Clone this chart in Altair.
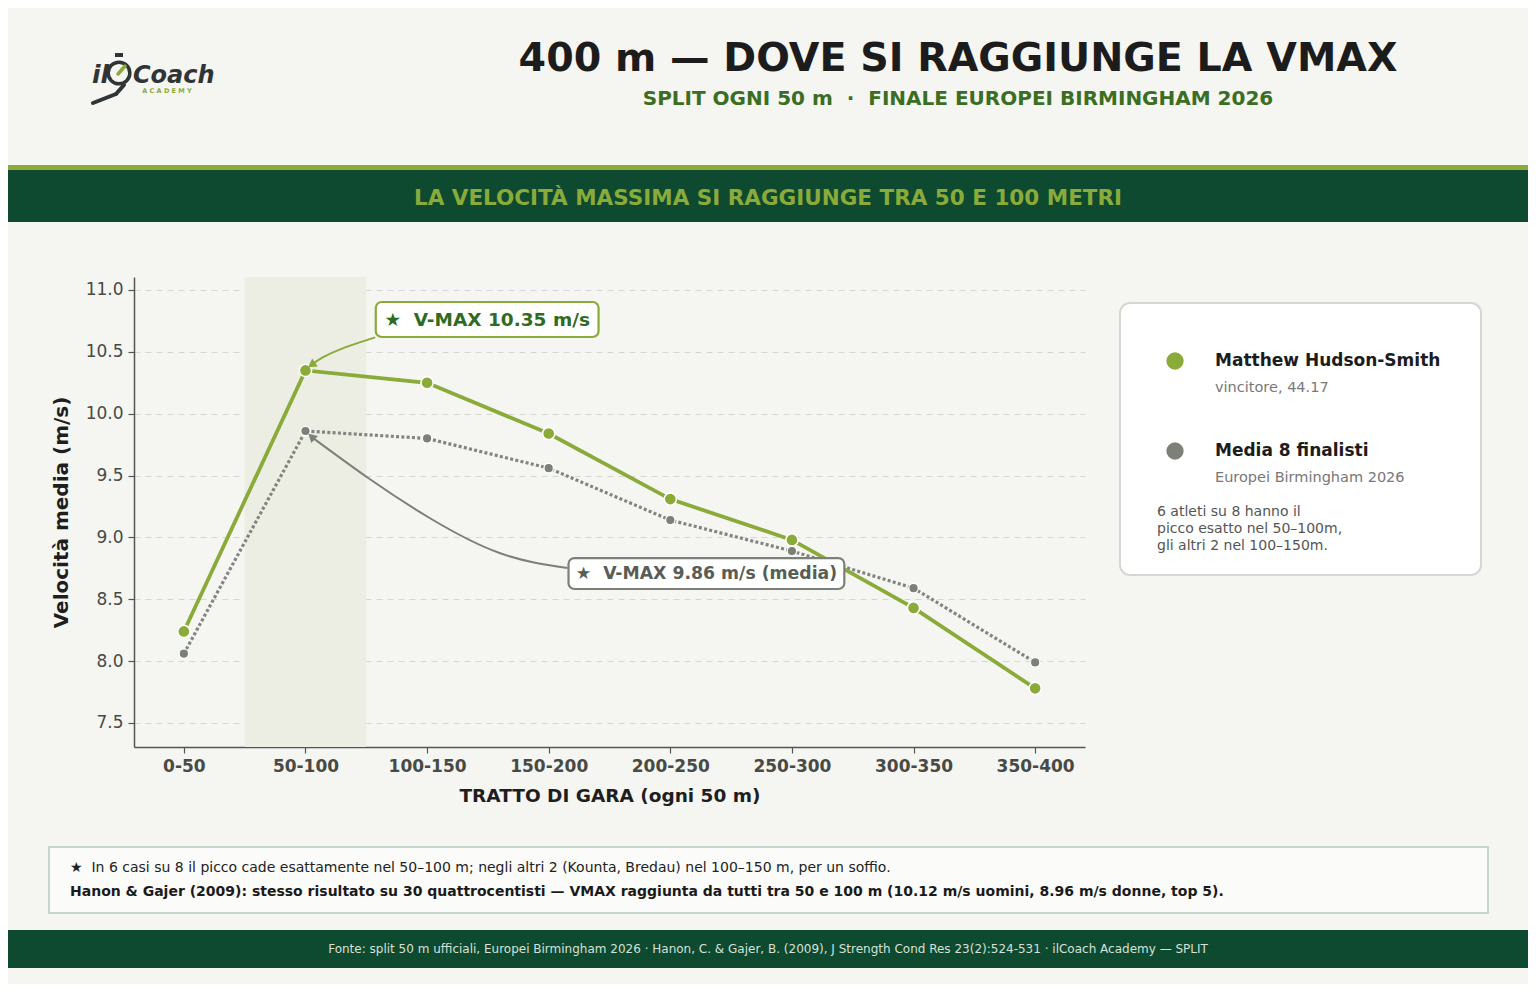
import json
import altair as alt
import pandas as pd

# ---------------- data ----------------
segments = ["0-50", "50-100", "100-150", "150-200", "200-250", "250-300", "300-350", "350-400"]
winner = [8.24, 10.35, 10.25, 9.84, 9.31, 8.98, 8.43, 7.78]
average = [8.06, 9.86, 9.80, 9.56, 9.14, 8.89, 8.59, 7.99]
series_names = ["Matthew Hudson-Smith", "Media 8 finalisti"]
series_subs = ["vincitore, 44.17", "Europei Birmingham 2026"]
y_ticks = [7.5, 8.0, 8.5, 9.0, 9.5, 10.0, 10.5, 11.0]

NB = "\u00a0"
title_text = "400 m — DOVE SI RAGGIUNGE LA VMAX"
subtitle_text = f"SPLIT OGNI 50 m {NB}·{NB} FINALE EUROPEI BIRMINGHAM 2026"
banner_text = "LA VELOCITÀ MASSIMA SI RAGGIUNGE TRA 50 E 100 METRI"
note_text = "6 atleti su 8 hanno il\npicco esatto nel 50–100m,\ngli altri 2 nel 100–150m."
foot1 = (f"★{NB}{NB}In 6 casi su 8 il picco cade esattamente nel 50–100 m; negli altri 2 "
         "(Kounta, Bredau) nel 100–150 m, per un soffio.")
foot2 = ("Hanon & Gajer (2009): stesso risultato su 30 quattrocentisti — VMAX raggiunta da tutti tra 50 e 100 m "
         "(10.12 m/s uomini, 8.96 m/s donne, top 5).")
source_text = ("Fonte: split 50 m ufficiali, Europei Birmingham 2026 · Hanon, C. & Gajer, B. (2009), "
               "J Strength Cond Res 23(2):524-531 · ilCoach Academy — SPLIT")

# ---------------- styles ----------------
BG = "#f5f5f2"
GREEN = "#8aaa3a"
DKGREEN = "#0e4a30"
GRAY = "#7b8078"
LINEGRAY = "#808580"
F = "DejaVu Sans"

W, H = 951, 470

df = pd.DataFrame({
    "idx": list(range(len(segments))) * 2,
    "v": winner + average,
    "serie": [series_names[0]] * len(segments) + [series_names[1]] * len(segments),
})

xs = alt.Scale(domain=[-0.41, 7.41], nice=False, zero=False)
ys = alt.Scale(domain=[7.306, 11.105], nice=False, zero=False)

x_axis = alt.Axis(
    values=list(range(len(segments))),
    labelExpr=f"{json.dumps(segments)}[datum.value]",
    grid=False, domainColor="#555", domainWidth=1.5, tickColor="#555", tickSize=6, tickWidth=1.2,
    labelFont=F, labelFontSize=17, labelFontWeight="bold", labelColor="#474a45", labelPadding=5,
    title="TRATTO DI GARA (ogni 50 m)", titleFont=F, titleFontSize=18.5, titleFontWeight="bold",
    titleColor="#1e1e1e", titlePadding=12,
)
y_axis = alt.Axis(
    values=y_ticks, format=".1f",
    grid=True, gridDash=[6, 5], gridColor="#d6d6d2", gridWidth=1,
    domainColor="#555", domainWidth=1.5, tickColor="#555", tickSize=6, tickWidth=1.2,
    labelFont=F, labelFontSize=17, labelColor="#474a45", labelPadding=5,
    title="Velocità media (m/s)", titleFont=F, titleFontSize=20, titleFontWeight="bold",
    titleColor="#1e1e1e", titlePadding=14,
)


def X(field):
    return alt.X(field, type="quantitative", scale=xs, axis=x_axis)


def X2(field):
    return alt.X2(field)


def Y(field):
    return alt.Y(field, type="quantitative", scale=ys, axis=y_axis)


one = pd.DataFrame({"k": [0]})

# peak positions (derived from the data)
pw_i = winner.index(max(winner))
pw_v = max(winner)
pa_i = average.index(max(average))
pa_v = max(average)

band_df = pd.DataFrame({"x1": [pw_i - 0.5], "x2": [pw_i + 0.5]})
band = alt.Chart(band_df).mark_rect(color="#eceee4").encode(
    x=X("x1"), x2=X2("x2"), y=alt.value(0), y2=alt.value(H)
)

line_avg = alt.Chart(df).transform_filter(alt.datum.serie == series_names[1]).mark_line(
    color=LINEGRAY, strokeWidth=3.2, strokeDash=[3, 2.3], strokeCap="butt"
).encode(x=X("idx"), y=Y("v"))
line_win = alt.Chart(df).transform_filter(alt.datum.serie == series_names[0]).mark_line(
    color=GREEN, strokeWidth=3.8
).encode(x=X("idx"), y=Y("v"))
pts_avg = alt.Chart(df).transform_filter(alt.datum.serie == series_names[1]).mark_point(
    filled=True, shape="circle", size=90, color=GRAY, stroke="white", strokeWidth=1.3, opacity=1
).encode(x=X("idx"), y=Y("v"))
pts_win = alt.Chart(df).transform_filter(alt.datum.serie == series_names[0]).mark_point(
    filled=True, shape="circle", size=150, color=GREEN, stroke="white", strokeWidth=1.6, opacity=1
).encode(x=X("idx"), y=Y("v"))

# ---------------- annotations ----------------
arrow_w = pd.DataFrame({
    "ax": [pw_i + 0.574, pw_i + 0.306, pw_i + 0.142, pw_i + 0.052],
    "ay": [pw_v + 0.267, pw_v + 0.178, pw_v + 0.105, pw_v + 0.048],
    "o": [0, 1, 2, 3],
})
arrow_a = pd.DataFrame({
    "ax": [pa_i + 2.155, pa_i + 1.596, pa_i + 1.021, pa_i + 0.528, pa_i + 0.052],
    "ay": [pa_v - 1.107, pa_v - 0.986, pa_v - 0.703, pa_v - 0.388, pa_v - 0.049],
    "o": [0, 1, 2, 3, 4],
})
arr_w = alt.Chart(arrow_w).mark_line(color=GREEN, strokeWidth=2, interpolate="natural").encode(
    x=X("ax"), y=Y("ay"), order="o:O")
arr_a = alt.Chart(arrow_a).mark_line(color=GRAY, strokeWidth=2, interpolate="natural").encode(
    x=X("ax"), y=Y("ay"), order="o:O")
head_df = pd.DataFrame({
    "hx": [pw_i + 0.05, pa_i + 0.05],
    "hy": [pw_v + 0.045, pa_v - 0.045],
    "ang": [235, 313],
    "col": [GREEN, GRAY],
})
heads = alt.Chart(head_df).mark_point(shape="triangle-up", filled=True, size=95, opacity=1).encode(
    x=X("hx"), y=Y("hy"), angle=alt.Angle("ang:Q", scale=None),
    color=alt.Color("col:N", scale=None),
)

boxes = pd.DataFrame({
    "x1": [pw_i + 0.578, pa_i + 2.163],
    "x2": [pw_i + 2.410, pa_i + 4.431],
    "y1": [pw_v + 0.270, pa_v - 1.277],
    "y2": [pw_v + 0.553, pa_v - 1.027],
    "tx": [pw_i + 1.494, pa_i + 3.297],
    "ty": [pw_v + 0.411, pa_v - 1.152],
    "label": [f"★{NB}{NB}V-MAX {pw_v:.2f} m/s", f"★{NB}{NB}V-MAX {pa_v:.2f} m/s (media)"],
    "edge": [GREEN, GRAY],
    "ink": ["#2f6b20", "#585d55"],
    "fs": [18.5, 17.3],
})
box_rects = alt.Chart(boxes).mark_rect(fill="white", strokeWidth=2.2, cornerRadius=6).encode(
    x=X("x1"), x2=X2("x2"), y=Y("y1"), y2=alt.Y2("y2"),
    stroke=alt.Stroke("edge:N", scale=None),
)
box_texts = alt.Chart(boxes).mark_text(font=F, fontWeight="bold", baseline="middle").encode(
    x=X("tx"), y=Y("ty"), text="label:N",
    color=alt.Color("ink:N", scale=None),
    size=alt.Size("fs:Q", scale=None),
)

# ---------------- legend panel (pixel layout) ----------------
leg_box = alt.Chart(one).mark_rect(fill="white", stroke="#d5d7d1", strokeWidth=2, cornerRadius=10).encode(
    x=alt.value(986), x2=alt.value(1347), y=alt.value(26), y2=alt.value(298))
leg_df = pd.DataFrame({
    "name": series_names,
    "sub": series_subs,
    "py": [84, 174],
    "col": [GREEN, GRAY],
})
leg_dots = alt.Chart(leg_df).mark_point(filled=True, shape="circle", size=300, opacity=1).encode(
    x=alt.value(1041), y=alt.Y("py:Q", scale=None), color=alt.Color("col:N", scale=None))
leg_names = alt.Chart(leg_df).mark_text(font=F, fontSize=17, fontWeight="bold", align="left",
                                       baseline="middle", color="#1c1c1c").encode(
    x=alt.value(1081), y=alt.Y("py:Q", scale=None), text="name:N")
leg_subs = alt.Chart(leg_df).transform_calculate(py2="datum.py + 27").mark_text(
    font=F, fontSize=14.5, align="left", baseline="middle", color="#787878").encode(
    x=alt.value(1081), y=alt.Y("py2:Q", scale=None), text="sub:N")
leg_note = alt.Chart(one).mark_text(font=F, fontSize=14, align="left", baseline="middle",
                                    color="#555", lineBreak="\n", lineHeight=17).encode(
    x=alt.value(1023), y=alt.value(235), text=alt.value(note_text))

# ---------------- header / bands / footer (pixel layout) ----------------
def rect(x1, x2, y1, y2, **kw):
    return alt.Chart(one).mark_rect(**kw).encode(
        x=alt.value(x1), x2=alt.value(x2), y=alt.value(y1), y2=alt.value(y2))


def text(t, x, y, **kw):
    return alt.Chart(one).mark_text(**kw).encode(x=alt.value(x), y=alt.value(y), text=alt.value(t))


stripe = rect(-140, 1410, -112, -107, color=GREEN)
dkband = rect(-140, 1410, -107, -55, color=DKGREEN)
banner = text(banner_text, 634, -78, font=F, fontSize=21.5, fontWeight="bold", color=GREEN, baseline="middle")
title = text(title_text, 824, -206, font=F, fontSize=39.6, fontWeight="bold", color="#1c1c1c",
             baseline="alphabetic")
subtitle = text(subtitle_text, 824, -172, font=F, fontSize=20, fontWeight="bold", color="#3b6e22",
                baseline="alphabetic")

# logo
LOGO = "#2f3437"
logo_il = text("il", -42, -194, font=F, fontSize=25, fontWeight="bold", fontStyle="italic",
               color=LOGO, align="left", baseline="alphabetic")
logo_ring = alt.Chart(one).mark_point(shape="circle", filled=False, size=470, strokeWidth=3.5,
                                      color=LOGO, opacity=1).encode(x=alt.value(-15), y=alt.value(-204))
logo_nub = rect(-19, -11, -224, -220, color=LOGO)
logo_hand = alt.Chart(one).mark_rule(color=GREEN, strokeWidth=3.5, strokeCap="round").encode(
    x=alt.value(-16), y=alt.value(-203), x2=alt.value(-9), y2=alt.value(-211))
logo_coach = text("Coach", -1, -194, font=F, fontSize=24, fontWeight="bold", fontStyle="italic",
                  color=LOGO, align="left", baseline="alphabetic")
logo_acad = text("A C A D E M Y", 33, -186, font=F, fontSize=6.5, fontWeight="bold", color=GREEN,
                 baseline="middle")
logo_leg1 = alt.Chart(one).mark_rule(color=LOGO, strokeWidth=4, strokeCap="round").encode(
    x=alt.value(-41), y=alt.value(-174), x2=alt.value(-18), y2=alt.value(-183))
logo_leg2 = alt.Chart(one).mark_rule(color=LOGO, strokeWidth=4, strokeCap="round").encode(
    x=alt.value(-18), y=alt.value(-183), x2=alt.value(-10), y2=alt.value(-192))

# footnote box
fn_box = rect(-85, 1354, 570, 636, fill="#fbfbf9", stroke="#c8d5cc", strokeWidth=2)
fn1 = text(foot1, -64, 591, font=F, fontSize=14, color="#222", align="left", baseline="middle")
fn2 = text(foot2, -64, 615, font=F, fontSize=14, fontWeight="bold", color="#1a1a1a", align="left",
           baseline="middle")

footer = rect(-140, 1410, 653, 691, color=DKGREEN)
footer_t = text(source_text, 634, 672, font=F, fontSize=12, color="#d6e0d7", baseline="middle")

chart = alt.layer(
    band, line_avg, line_win, pts_avg, pts_win,
    arr_w, arr_a, heads, box_rects, box_texts,
    leg_box, leg_dots, leg_names, leg_subs, leg_note,
    stripe, dkband, banner, title, subtitle,
    logo_il, logo_ring, logo_nub, logo_hand, logo_coach, logo_acad, logo_leg1, logo_leg2,
    fn_box, fn1, fn2, footer, footer_t,
).properties(
    width=W, height=H,
    padding={"left": 126, "top": 269, "right": 443, "bottom": 237},
    autosize=alt.AutoSizeParams(type="none"),
    background=BG,
).configure_view(stroke="transparent")

chart.save("out.html", embed_options={"renderer": "svg", "actions": False})
